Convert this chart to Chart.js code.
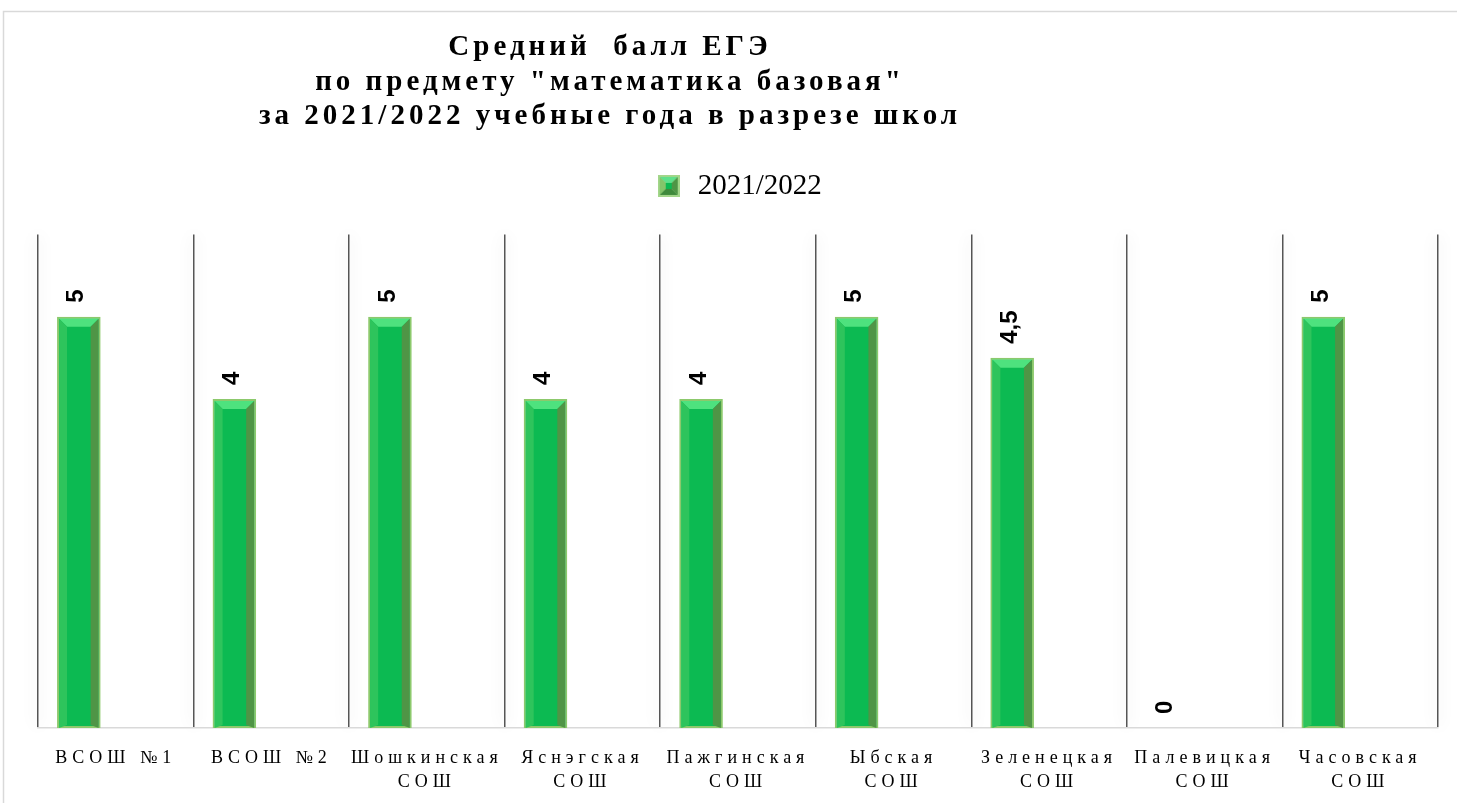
<!DOCTYPE html>
<html>
<head>
<meta charset="utf-8">
<script src="https://cdn.jsdelivr.net/npm/chart.js@4"></script>
<style>
  html, body { margin: 0; padding: 0; background: #fff; }
  #wrap { width: 1457px; height: 803px; }
</style>
</head>
<body>
<div id="wrap"><canvas id="ege-chart" width="1457" height="803"></canvas></div>
<script>
const schools = [
  ['ВСОШ №1'], ['ВСОШ №2'], ['Шошкинская', 'СОШ'], ['Яснэгская', 'СОШ'],
  ['Пажгинская', 'СОШ'], ['Ыбская', 'СОШ'], ['Зеленецкая', 'СОШ'],
  ['Палевицкая', 'СОШ'], ['Часовская', 'СОШ']
];
const scores2122 = [5, 4, 5, 4, 4, 5, 4.5, 0, 5];
const seriesName = '2021/2022';
const titleLines = ['Средний  балл ЕГЭ', 'по предмету "математика базовая"', 'за 2021/2022 учебные года в разрезе школ'];

// little bevelled square for the legend
function legendBox() {
  const cv = document.createElement('canvas');
  cv.width = 22; cv.height = 22;
  const c = cv.getContext('2d');
  const poly = (pts, col) => {
    c.fillStyle = col; c.beginPath();
    pts.forEach((p, i) => i ? c.lineTo(p[0], p[1]) : c.moveTo(p[0], p[1]));
    c.closePath(); c.fill();
  };
  c.fillStyle = '#a3d68a'; c.fillRect(0, 0, 22, 22);
  poly([[2, 2], [20, 2], [14, 8], [8, 8]], '#5fe08a');
  poly([[2, 2], [8, 8], [8, 14], [2, 20]], '#84c56a');
  poly([[20, 2], [14, 8], [14, 14], [20, 20]], '#4f9546');
  poly([[2, 20], [8, 14], [14, 14], [20, 20]], '#3f8a3c');
  c.fillStyle = '#0cba52'; c.fillRect(8, 8, 6, 6);
  return cv;
}

const framePlugin = {
  id: 'frame',
  beforeDraw(chart) {
    const c = chart.ctx;
    c.save();
    c.fillStyle = '#fff';
    c.fillRect(0, 0, chart.width, chart.height);
    c.strokeStyle = '#d9d9d9';
    c.lineWidth = 1.5;
    c.beginPath();
    c.moveTo(3.5, chart.height);
    c.lineTo(3.5, 11.5);
    c.lineTo(chart.width, 11.5);
    c.stroke();
    c.restore();
  },
  beforeLayout(chart) {
    const t = chart.titleBlock;
    if (t && !t._wrapped) {
      const draw = t.draw.bind(t);
      t.draw = function () {
        this.ctx.save();
        this.ctx.translate(-128, 0);
        this.ctx.letterSpacing = '4px';
        draw();
        this.ctx.restore();
      };
      t._wrapped = true;
    }
    const lg = chart.legend;
    if (lg && !lg._wrapped) {
      const fit = lg.fit.bind(lg);
      lg.fit = function () { fit(); this.height += 24; };
      lg._wrapped = true;
    }
    const s = chart.scales.x;
    if (s && !s._wrapped) {
      const labels = s.drawLabels.bind(s);
      s.drawLabels = function (area) {
        const c = this.ctx;
        c.save();
        c.letterSpacing = '5px';
        labels(area);
        c.restore();
      };
      const grid = s.drawGrid.bind(s);
      s.drawGrid = function (area) {
        const c = this.ctx;
        c.save();
        c.shadowColor = 'rgba(0,0,0,0.2)';
        c.shadowBlur = 16;
        grid(area);
        c.restore();
      };
      s._wrapped = true;
    }
  }
};

// 3d bevel on the bars and rotated value labels
const bevelPlugin = {
  id: 'bevel',
  afterDatasetsDraw(chart) {
    const c = chart.ctx;
    const meta = chart.getDatasetMeta(0);
    meta.data.forEach((bar, i) => {
      const v = scores2122[i];
      const w = bar.width;
      const l = bar.x - w / 2 + 2, r = bar.x + w / 2 - 2;
      const t = bar.y + 2, b = bar.base;
      const k = 8;
      if (v > 0) {
        c.save();
        c.fillStyle = '#4ee27e';
        c.beginPath();
        c.moveTo(l, t); c.lineTo(r, t); c.lineTo(r - k, t + k); c.lineTo(l + k, t + k);
        c.closePath(); c.fill();
        c.fillStyle = '#2ec45c';
        c.beginPath();
        c.moveTo(l, t); c.lineTo(l + k, t + k); c.lineTo(l + k, b - 3); c.lineTo(l, b);
        c.closePath(); c.fill();
        c.fillStyle = '#4f9546';
        c.beginPath();
        c.moveTo(r, t); c.lineTo(r - k, t + k); c.lineTo(r - k, b - 3); c.lineTo(r, b);
        c.closePath(); c.fill();
        c.restore();
      }
      c.save();
      c.translate(bar.x - 2, bar.y - 14);
      c.rotate(-Math.PI / 2);
      c.font = 'bold 24px "Liberation Sans"';
      c.fillStyle = '#000';
      c.textAlign = 'left';
      c.textBaseline = 'middle';
      c.fillText(String(v).replace('.', ','), 0, 0);
      c.restore();
    });
  }
};

new Chart('ege-chart', {
  type: 'bar',
  data: {
    labels: schools,
    datasets: [{
      label: seriesName,
      data: scores2122,
      backgroundColor: '#0cba52',
      borderColor: '#8cc96c',
      borderWidth: 2,
      borderSkipped: false,
      categoryPercentage: 0.95,
      barPercentage: 0.59
    }, {
      label: '',
      data: [],
      categoryPercentage: 0.95,
      barPercentage: 0.59
    }]
  },
  options: {
    responsive: false,
    animation: false,
    layout: { padding: { left: 38, right: 19, top: 14, bottom: 0 } },
    plugins: {
      title: {
        display: true,
        text: titleLines,
        color: '#000',
        font: { family: 'Liberation Serif', size: 29, weight: 'bold' },
        lineHeight: 1.14,
        padding: { top: 16, bottom: 33 }
      },
      legend: {
        position: 'top',
        labels: {
          filter: (item) => item.text !== '',
          color: '#000',
          font: { family: 'Liberation Serif', size: 29 },
          usePointStyle: true,
          pointStyle: legendBox(),
          padding: 4
        }
      },
      tooltip: { enabled: false }
    },
    scales: {
      x: {
        grid: { color: '#555', lineWidth: 1.5, drawTicks: false, offset: true },
        border: { color: '#d9d9d9', width: 1.5 },
        ticks: {
          color: '#000',
          font: { family: 'Liberation Serif', size: 18, lineHeight: 1.33 },
          padding: 18,
          maxRotation: 0,
          autoSkip: false
        },
        afterFit: (s) => { s.height -= 9; }
      },
      y: {
        display: false,
        min: 0,
        max: 6
      }
    }
  },
  plugins: [framePlugin, bevelPlugin]
});
</script>
</body>
</html>
